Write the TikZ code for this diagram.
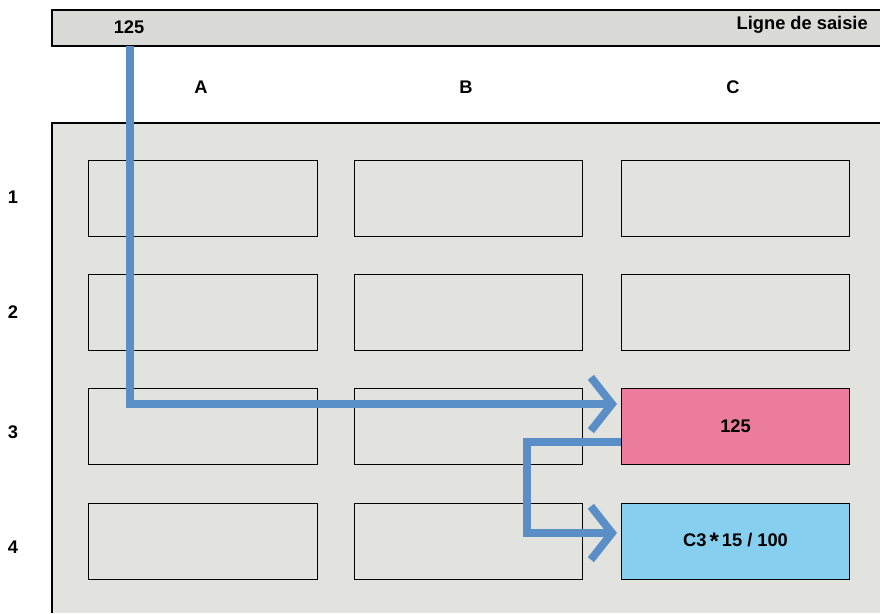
\documentclass[tikz,border=0pt]{standalone}
\usepackage{fontspec}
\setmainfont{Liberation Sans}
\usetikzlibrary{arrows.meta,calc}
\definecolor{panelgray}{HTML}{E2E2DE}
\definecolor{bargray}{HTML}{DADAD6}
\definecolor{arrowblue}{HTML}{5A8EC6}
\definecolor{cellpink}{HTML}{EC7C9C}
\definecolor{cellblue}{HTML}{86CFEF}
\tikzset{
  cell/.style={draw=black, line width=0.7pt, fill=panelgray, minimum width=5.7cm, minimum height=1.9cm, inner sep=0pt, font=\bfseries\fontsize{13}{15}\selectfont},
  lbl/.style={font=\bfseries\fontsize{13}{15}\selectfont, inner sep=0pt},
  flow/.style={draw=arrowblue, line width=5.6pt, line cap=butt, line join=miter,
    -{Straight Barb[length=15pt, width=38pt, line width=5.6pt]}}
}
\begin{document}
\begin{tikzpicture}[x=0.025cm,y=-0.025cm]
\useasboundingbox (0,0) rectangle (880,613);
% input bar
\fill[bargray] (52,10) rectangle (880,46);
\draw[line width=1.2pt] (880,10) -- (52,10) -- (52,46) -- (880,46);
\node[lbl, anchor=center] (input) at (129,27) {125};
\node[lbl, anchor=east] (title) at (868,25) {Ligne de saisie};
% column labels
\node[lbl] (colA) at (201,87) {A};
\node[lbl] (colB) at (466,87) {B};
\node[lbl] (colC) at (733,87) {C};
% panel
\fill[panelgray] (52,123) rectangle (880,613);
\draw[line width=1.2pt] (880,123) -- (52,123) -- (52,613);
% row labels
\node[lbl] (row1) at (13,197) {1};
\node[lbl] (row2) at (13,312) {2};
\node[lbl] (row3) at (13,432) {3};
\node[lbl] (row4) at (13,547) {4};
% cells
\node[cell] (a1) at (203,198.5) {};
\node[cell] (b1) at (468.5,198.5) {};
\node[cell] (c1) at (735.5,198.5) {};
\node[cell] (a2) at (203,312.5) {};
\node[cell] (b2) at (468.5,312.5) {};
\node[cell] (c2) at (735.5,312.5) {};
\node[cell] (a3) at (203,426.5) {};
\node[cell] (b3) at (468.5,426.5) {};
\node[cell, fill=cellpink] (c3) at (735.5,426.5) {125};
\node[cell] (a4) at (203,541) {};
\node[cell] (b4) at (468.5,541) {};
\node[cell, fill=cellblue] (c4) at (735.5,541) {C3\,\raisebox{-0.3ex}{\fontsize{17}{17}\selectfont *}\,15\;/\;100};
% connectors
\coordinate (start) at (130,46);
\coordinate (in3) at ($(c3.west)+(-4,-22.5)$);
\coordinate (out3) at ($(c3.west)+(0,15.5)$);
\coordinate (in4) at ($(c4.west)+(-4,-8)$);
\draw[flow] (start) |- (in3);
\draw[flow] (out3) -| (527,490) |- (in4);
\end{tikzpicture}
\end{document}
